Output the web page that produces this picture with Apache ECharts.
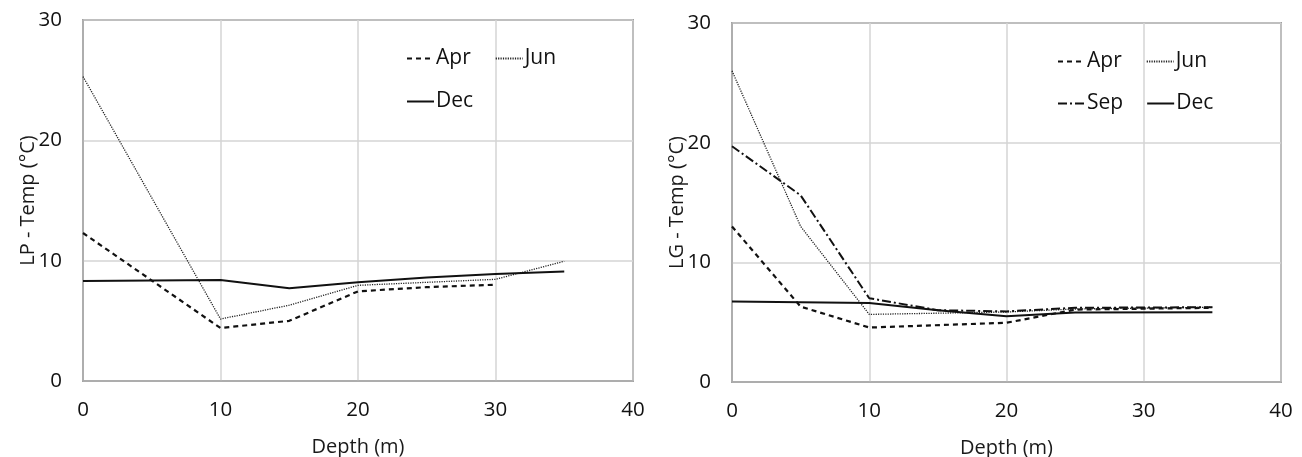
<!DOCTYPE html>
<html>
<head>
<meta charset="utf-8">
<script src="https://cdn.jsdelivr.net/npm/echarts@6/dist/echarts.min.js"></script>
<style>
html,body{margin:0;padding:0;background:#fff;}
#c1{position:absolute;left:0;top:0;width:651px;height:457px;}
#c2{position:absolute;left:651px;top:0;width:651px;height:457px;}
</style>
</head>
<body>
<div id="c1"></div>
<div id="c2"></div>
<script>
// ---- Data (depth m, temperature °C) ----
const xTicks = [0, 10, 20, 30, 40];
const yTicks = [0, 10, 20, 30];

const lpApr = [[0,12.3],[10,4.4],[15,5.0],[20,7.45],[25,7.8],[30,8.0]];
const lpJun = [[0,25.3],[10,5.15],[15,6.3],[20,7.95],[30,8.45],[35,9.95]];
const lpDec = [[0,8.3],[10,8.4],[15,7.7],[20,8.2],[25,8.6],[30,8.9],[35,9.1]];

const lgApr = [[0,13.0],[5,6.3],[10,4.55],[20,4.95],[25,6.05],[35,6.2]];
const lgJun = [[0,26.0],[5,13.0],[10,5.65],[20,5.85],[25,6.1],[35,6.25]];
const lgSep = [[0,19.7],[5,15.6],[10,7.0],[15,6.0],[20,5.9],[25,6.2],[35,6.25]];
const lgDec = [[0,6.73],[10,6.6],[15,6.0],[20,5.5],[25,5.8],[35,5.83]];

const FONT = 'Open Sans';
const styles = {
  Apr: {color:'#111', width:2.2, type:[5,4]},
  Jun: {color:'#222', width:1.3, type:[1.2,1.2]},
  Sep: {color:'#111', width:2, type:[9,3,2,3]},
  Dec: {color:'#111', width:2, type:'solid'}
};

function mkSeries(name, data) {
  return {
    name: name, type: 'line', data: data, symbol: 'none',
    lineStyle: styles[name], itemStyle: {color: styles[name].color},
    emphasis: {disabled: true}, animation: false
  };
}

function mkOption(grid, yName, series, legends) {
  return {
    animation: false,
    grid: Object.assign({show: true, borderColor: '#555', borderWidth: 1.5, backgroundColor: 'transparent',
                         containLabel: false, outerBoundsMode: 'none'}, grid),
    legend: legends.map(l => ({
      data: l.data, left: l.left, top: l.top, orient: 'horizontal', padding: 0,
      itemWidth: 27, itemHeight: 14, itemGap: l.gap || 25,
      selectedMode: false,
      itemStyle: {opacity: 0},
      textStyle: {fontFamily: FONT, fontSize: 21, color: '#111', padding: [0,0,0,-3]}
    })),
    xAxis: {
      type: 'value', min: xTicks[0], max: xTicks[xTicks.length-1], interval: 10,
      name: 'Depth (m)', nameLocation: 'middle', nameGap: 56,
      nameTextStyle: {fontFamily: FONT, fontSize: 20, color: '#1a1a1a'},
      axisLine: {show: true, lineStyle: {color: '#a8a8a8', width: 1.5}},
      axisTick: {show: false},
      axisLabel: {fontFamily: FONT, fontSize: 20.5, color: '#111', margin: 19},
      splitLine: {show: true, lineStyle: {color: '#d4d4d4', width: 1.5}}
    },
    yAxis: {
      type: 'value', min: yTicks[0], max: yTicks[yTicks.length-1], interval: 10,
      name: yName, nameLocation: 'middle', nameGap: 45, nameRotate: 90, nameMoveOverlap: false,
      nameTextStyle: {fontFamily: FONT, fontSize: 20, color: '#1a1a1a'},
      axisLine: {show: true, lineStyle: {color: '#a8a8a8', width: 1.5}},
      axisTick: {show: false},
      axisLabel: {fontFamily: FONT, fontSize: 20.5, color: '#111', margin: 21},
      splitLine: {show: true, lineStyle: {color: '#d4d4d4', width: 1.5}}
    },
    series: series
  };
}

const c1 = echarts.init(document.getElementById('c1'), null, {renderer: 'canvas'});
c1.setOption(mkOption(
  {left: 83, right: 18, top: 20, bottom: 76},
  'LP - Temp (°C)',
  [mkSeries('Apr', lpApr), mkSeries('Jun', lpJun), mkSeries('Dec', lpDec)],
  [{data: ['Apr','Jun'], left: 406, top: 48, gap: 24}, {data: ['Dec'], left: 406, top: 91}]
));

const c2 = echarts.init(document.getElementById('c2'), null, {renderer: 'canvas'});
c2.setOption(mkOption(
  {left: 81, right: 21, top: 23, bottom: 75},
  'LG - Temp (°C)',
  [mkSeries('Apr', lgApr), mkSeries('Jun', lgJun), mkSeries('Sep', lgSep), mkSeries('Dec', lgDec)],
  [{data: ['Apr','Jun'], left: 406, top: 51, gap: 24}, {data: ['Sep','Dec'], left: 406, top: 93, gap: 23}]
));
</script>
</body>
</html>
